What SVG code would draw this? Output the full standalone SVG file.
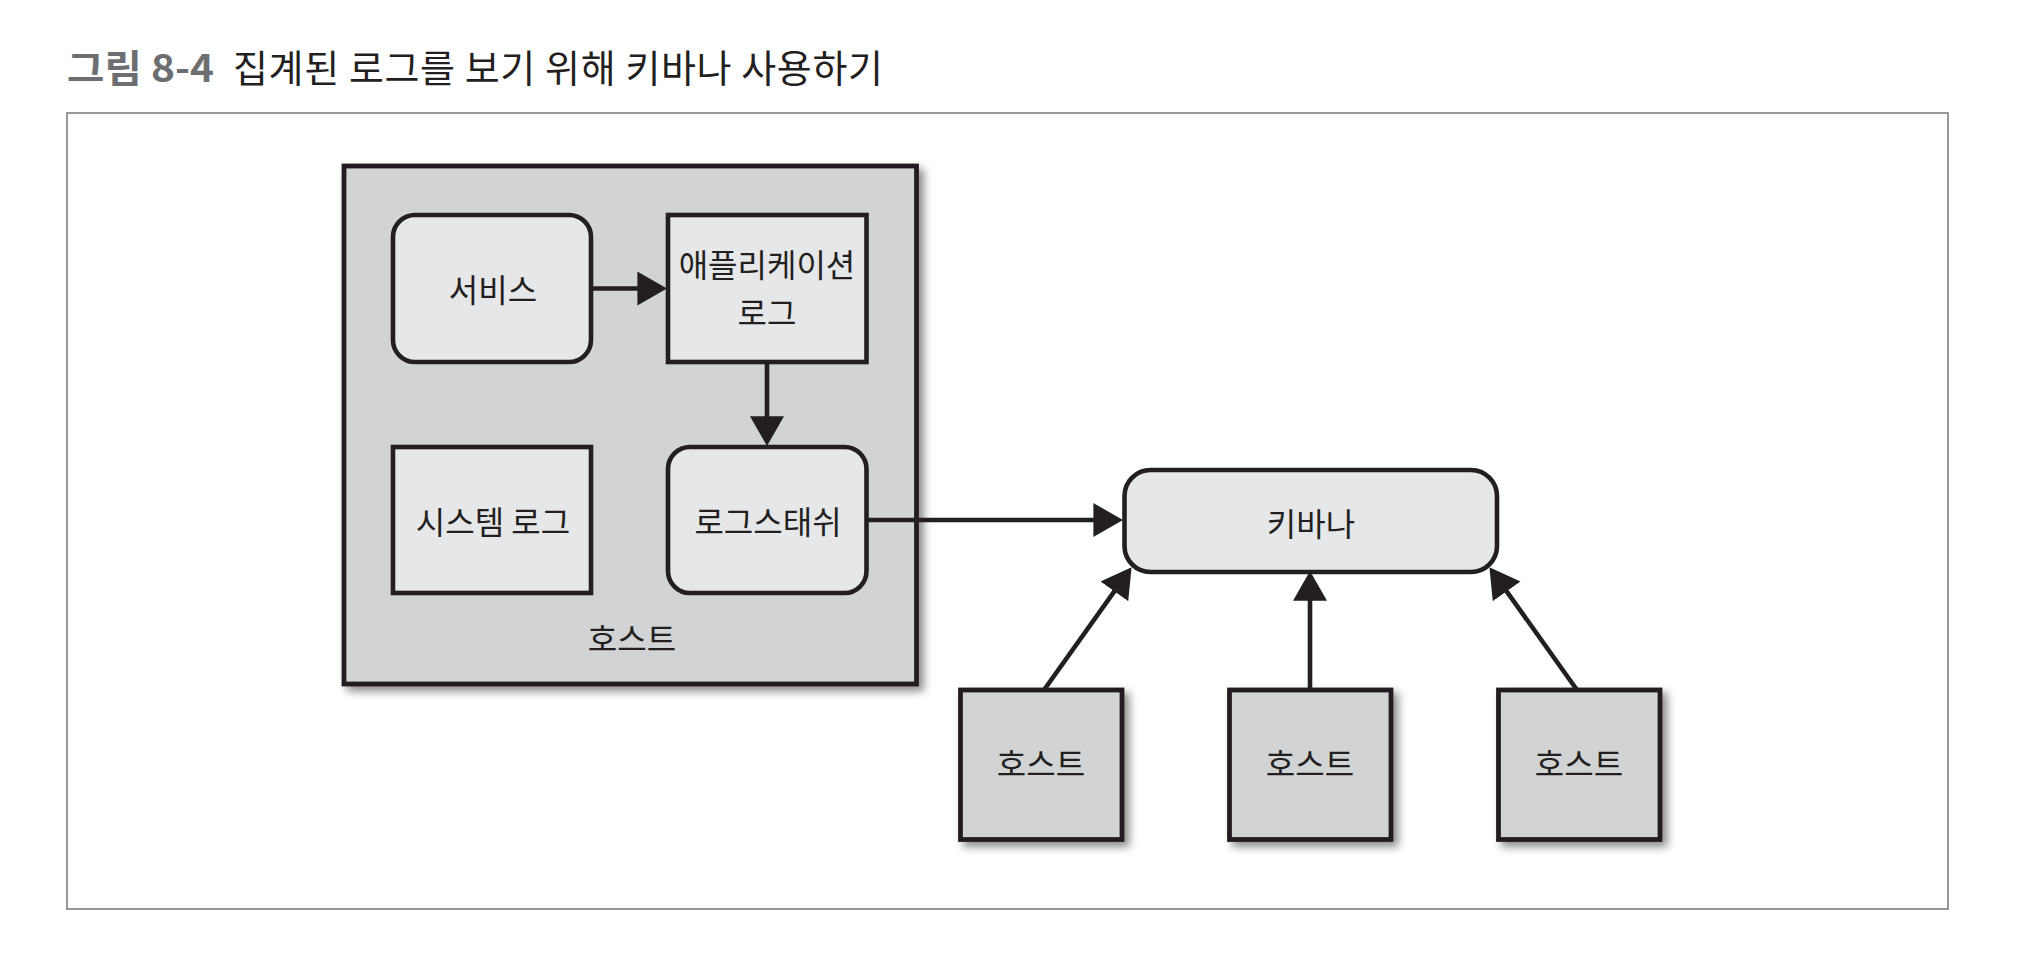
<svg xmlns="http://www.w3.org/2000/svg" width="2021" height="980" viewBox="0 0 2021 980">
  <style>
    .bg { fill: #ffffff; }
    .frame { fill: none; stroke: #7f7f7f; stroke-width: 1.6; }
    .host { fill: #d1d3d4; stroke: #231f20; stroke-width: 4.8; }
    .inner { fill: #e6e7e8; stroke: #231f20; stroke-width: 4.6; }
    .lbl { font-family: "Noto Sans CJK KR", "Noto Sans", sans-serif; font-size: 32px; fill: #231f20; text-anchor: middle; }
    .title { font-family: "Noto Sans CJK KR", "Noto Sans", sans-serif; font-size: 38px; fill: #231f20; }
    .titleb { font-family: "Noto Sans CJK KR", "Noto Sans", sans-serif; font-size: 38px; font-weight: bold; fill: #6d6e71; }
    .conn { fill: none; stroke: #231f20; stroke-width: 4.6; marker-end: url(#arrow); }
  </style>
  <defs>
    <filter id="shadow" x="-10%" y="-10%" width="130%" height="130%">
      <feDropShadow dx="5" dy="5" stdDeviation="4" flood-color="#000000" flood-opacity="0.45"/>
    </filter>
    <marker id="arrow" markerUnits="userSpaceOnUse" markerWidth="30" markerHeight="34" viewBox="0 0 27 31" refX="17" refY="15.5" orient="auto">
      <path d="M0,0 L27,15.5 L0,31 z" fill="#231f20"/>
    </marker>
  </defs>

  <rect class="bg" x="0" y="0" width="2021" height="980"/>

  <g id="title">
    <text class="titleb" x="67" y="82" textLength="147" lengthAdjust="spacingAndGlyphs">그림 8-4</text>
    <text class="title" x="233" y="82" textLength="650" lengthAdjust="spacing">집계된 로그를 보기 위해 키바나 사용하기</text>
  </g>

  <rect id="frame" class="frame" x="67" y="113" width="1881" height="796"/>

  <g id="host-main">
    <rect class="host" x="344" y="166" width="572.5" height="518" filter="url(#shadow)"/>
    <text class="lbl" x="632" y="651">호스트</text>
  </g>

  <g id="service">
    <rect class="inner" x="393" y="215" width="198" height="147" rx="22" ry="22"/>
    <text class="lbl" x="493" y="302">서비스</text>
  </g>

  <g id="app-log">
    <rect class="inner" x="668" y="215" width="198.5" height="147"/>
    <text class="lbl" x="767" y="277">애플리케이션</text>
    <text class="lbl" x="767" y="325">로그</text>
  </g>

  <g id="system-log">
    <rect class="inner" x="393" y="447" width="198" height="146"/>
    <text class="lbl" x="493" y="534">시스템 로그</text>
  </g>

  <g id="logstash">
    <rect class="inner" x="668" y="447" width="198.5" height="146" rx="22" ry="22"/>
    <text class="lbl" x="768" y="534">로그스태쉬</text>
  </g>

  <g id="kibana">
    <rect class="inner" x="1124.5" y="470" width="372.5" height="102" rx="26" ry="26"/>
    <text class="lbl" x="1311" y="536">키바나</text>
  </g>

  <g id="host-1">
    <rect class="host" x="960.5" y="690" width="161.5" height="149.5" filter="url(#shadow)"/>
    <text class="lbl" x="1041" y="776">호스트</text>
  </g>

  <g id="host-2">
    <rect class="host" x="1229.5" y="690" width="161.5" height="149.5" filter="url(#shadow)"/>
    <text class="lbl" x="1310" y="776">호스트</text>
  </g>

  <g id="host-3">
    <rect class="host" x="1498.5" y="690" width="161.5" height="149.5" filter="url(#shadow)"/>
    <text class="lbl" x="1579" y="776">호스트</text>
  </g>

  <g id="connectors">
    <path class="conn" d="M591,288.5 L656,288.5"/>
    <path class="conn" d="M767,362 L767,435"/>
    <path class="conn" d="M866.5,520 L1112,520"/>
    <path class="conn" d="M1044,690 L1125.2,576.1"/>
    <path class="conn" d="M1310,690 L1310,582"/>
    <path class="conn" d="M1577,690 L1495.8,576.1"/>
  </g>
</svg>
